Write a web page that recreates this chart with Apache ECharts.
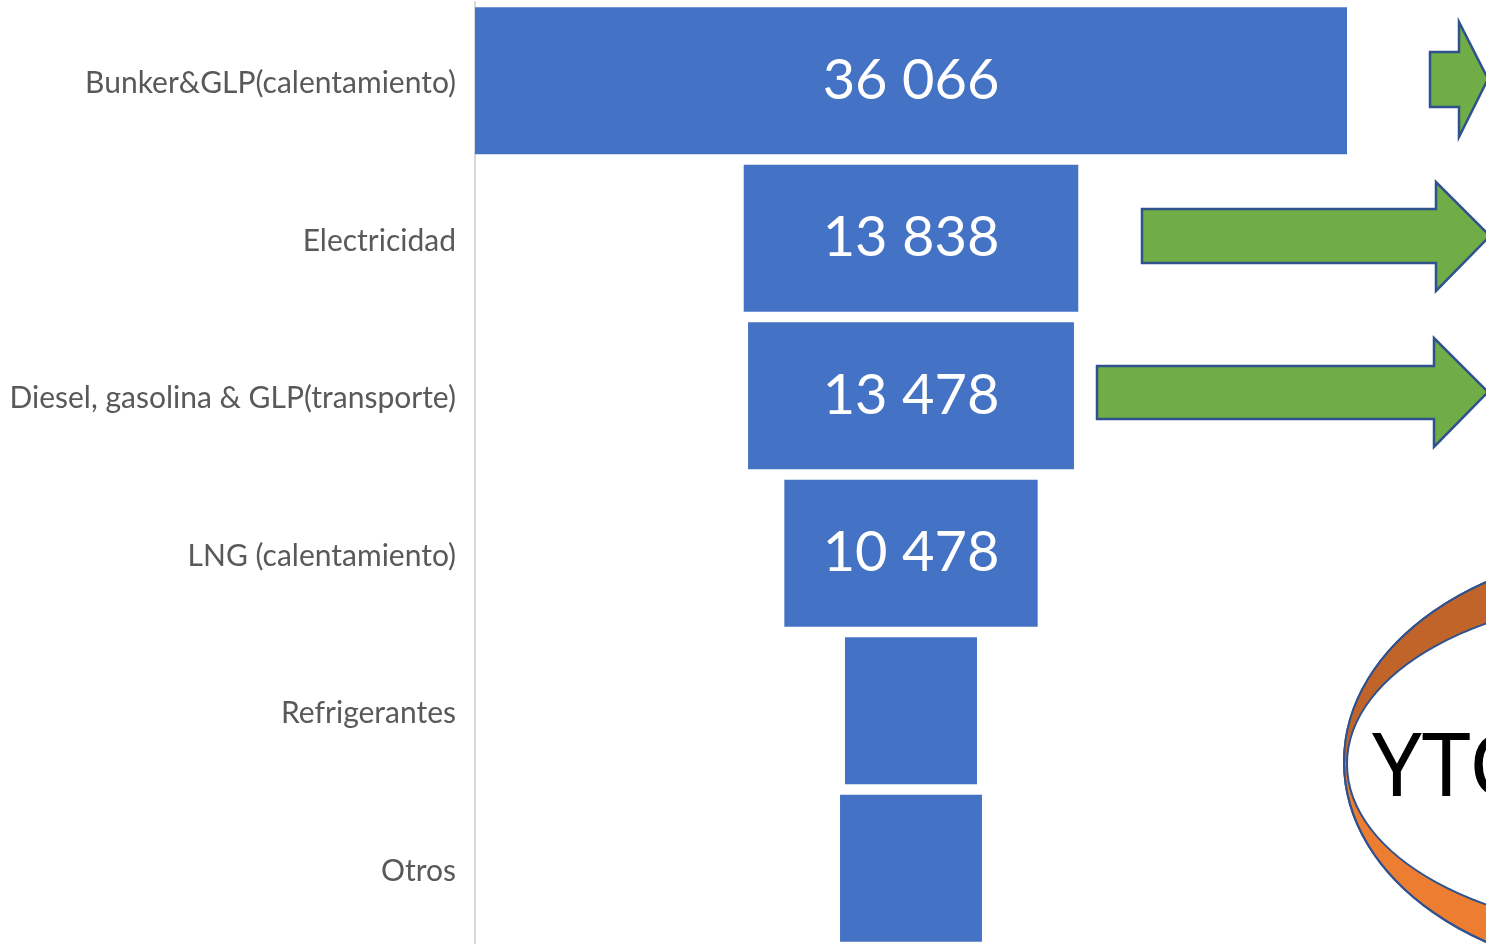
<!DOCTYPE html>
<html>
<head>
<meta charset="utf-8">
<script src="https://cdn.jsdelivr.net/npm/echarts@6/dist/echarts.min.js"></script>
<style>
html,body{margin:0;padding:0;background:#fff;}
#chart{width:1486px;height:944px;}
</style>
</head>
<body>
<div id="chart"></div>
<script>
const categories = ['Bunker&GLP(calentamiento)', 'Electricidad', 'Diesel, gasolina & GLP(transporte)', 'LNG (calentamiento)', 'Refrigerantes', 'Otros'];
const values = [36066, 13838, 13478, 10478, 5460, 5870];
const showValueLabel = [true, true, true, true, false, false];

const maxVal = Math.max.apply(null, values);
const offsets = values.map(v => (maxVal - v) / 2);

function fmt(v) {
  return String(v).replace(/\B(?=(\d{3})+(?!\d))/g, ' ');
}

// upper half of the decorative ring's outer ellipse
function halfEllipse(cx, cy, rx, ry, n) {
  const pts = [];
  for (let i = 0; i <= n; i++) {
    const a = Math.PI + Math.PI * i / n;
    pts.push([cx + rx * Math.cos(a), cy + ry * Math.sin(a)]);
  }
  return pts;
}

const chart = echarts.init(document.getElementById('chart'));

const arrowStyle = {fill: '#70AD47', stroke: '#2F528F', lineWidth: 2.5};
const ringStroke = '#2F528F';

chart.setOption({
  animation: false,
  grid: {left: 475, right: 139, top: 2, bottom: -3, containLabel: false, outerBoundsMode: 'none'},
  xAxis: {type: 'value', min: 0, max: maxVal, show: false},
  yAxis: {
    type: 'category',
    data: categories,
    inverse: true,
    axisLine: {show: true, lineStyle: {color: '#D9D9D9', width: 2}},
    axisTick: {show: false},
    axisLabel: {color: '#595959', fontSize: 30, fontFamily: 'Lato', margin: 19, verticalAlign: 'top', lineHeight: 6}
  },
  series: [
    {
      type: 'bar', stack: 'f', data: offsets, silent: true,
      itemStyle: {color: 'transparent'}, barWidth: 147
    },
    {
      type: 'bar', stack: 'f', data: values, barWidth: 147,
      itemStyle: {color: '#4472C4'},
      label: {
        show: true, position: 'inside', color: '#fff', fontSize: 56, fontFamily: 'Lato',
        formatter: p => showValueLabel[p.dataIndex] ? fmt(p.value) : ''
      }
    }
  ],
  graphic: [
    {type: 'polygon', shape: {points: [[1430,52],[1459,52],[1459,22],[1488,79],[1459,137],[1459,107],[1430,107]]}, style: arrowStyle},
    {type: 'polygon', shape: {points: [[1142,209],[1436,209],[1436,182],[1490,236],[1436,291],[1436,263],[1142,263]]}, style: arrowStyle},
    {type: 'polygon', shape: {points: [[1097,366],[1434,366],[1434,338],[1488,392],[1434,447],[1434,419],[1097,419]]}, style: arrowStyle},
    {type: 'ellipse', shape: {cx: 1650, cy: 762, rx: 306, ry: 213}, style: {fill: '#ED7D31', stroke: ringStroke, lineWidth: 2}},
    {type: 'polygon', shape: {points: halfEllipse(1650, 762, 306, 213, 120)}, style: {fill: '#C0642A'}},
    {type: 'ellipse', shape: {cx: 1650, cy: 762, rx: 306, ry: 213}, style: {fill: 'none', stroke: ringStroke, lineWidth: 2}},
    {type: 'ellipse', shape: {cx: 1650, cy: 764, rx: 303, ry: 167}, style: {fill: '#fff', stroke: ringStroke, lineWidth: 2}},
    {type: 'text', left: 1372, top: 727, style: {text: 'YTC', fill: '#000', fontSize: 88, fontFamily: 'Noto Sans'}}
  ]
});
</script>
</body>
</html>
